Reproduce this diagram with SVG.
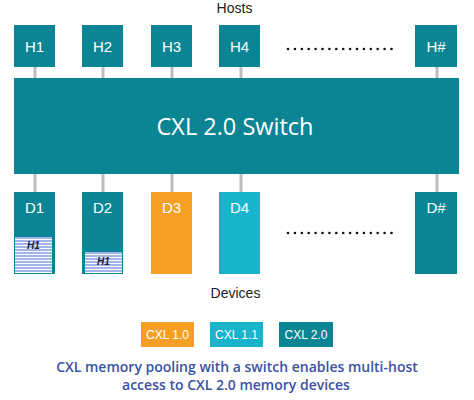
<svg xmlns="http://www.w3.org/2000/svg" width="474" height="400" viewBox="0 0 474 400">
<defs>
<pattern id="stripes" patternUnits="userSpaceOnUse" width="4" height="3" y="0">
<rect width="4" height="3" fill="#ffffff"/>
<rect width="4" height="2" fill="#a3b5e8"/>
</pattern>
</defs>
<style>
.teal{fill:#0b8593}
.lbl{font-family:"Liberation Sans",Arial,sans-serif;font-size:15px;fill:#ffffff;text-anchor:middle}
.cap{font-family:"Liberation Sans",Arial,sans-serif;font-size:14px;fill:#222222;text-anchor:middle}
.leg{font-family:"Liberation Sans",Arial,sans-serif;font-size:12px;fill:#ffffff;text-anchor:middle}
.conn{stroke:#bdbdbd;stroke-width:3}
.h1{font-family:"Liberation Sans",Arial,sans-serif;font-size:10px;font-weight:bold;font-style:italic;fill:#1a2440;text-anchor:middle}
.dots{fill:#111111}
.capt{font-family:"Open Sans","Noto Sans",sans-serif;font-size:14px;font-weight:600;fill:#3a52a3;text-anchor:middle}
</style>
<text class="cap" x="234.5" y="13">Hosts</text>
<g id="connectors">
<line class="conn" x1="35" y1="67" x2="35" y2="78"/>
<line class="conn" x1="103" y1="67" x2="103" y2="78"/>
<line class="conn" x1="172" y1="67" x2="172" y2="78"/>
<line class="conn" x1="241" y1="67" x2="241" y2="78"/>
<line class="conn" x1="437" y1="67" x2="437" y2="78"/>
<line class="conn" x1="35" y1="174" x2="35" y2="192"/>
<line class="conn" x1="103" y1="174" x2="103" y2="192"/>
<line class="conn" x1="172" y1="174" x2="172" y2="192"/>
<line class="conn" x1="241" y1="174" x2="241" y2="192"/>
<line class="conn" x1="437" y1="174" x2="437" y2="192"/>
</g>
<g id="H1"><rect class="teal" x="14" y="25" width="41" height="42"/><text class="lbl" x="34.5" y="51.5">H1</text></g>
<g id="H2"><rect class="teal" x="82" y="25" width="41" height="42"/><text class="lbl" x="102.5" y="51.5">H2</text></g>
<g id="H3"><rect class="teal" x="151" y="25" width="41" height="42"/><text class="lbl" x="171.5" y="51.5">H3</text></g>
<g id="H4"><rect class="teal" x="219" y="25" width="41" height="42"/><text class="lbl" x="239.5" y="51.5">H4</text></g>
<g id="Hn"><rect class="teal" x="415" y="25" width="42" height="42"/><text class="lbl" x="436" y="51.5">H#</text></g>
<g id="host-dots" class="dots">
<circle cx="288" cy="49" r="1.3"/><circle cx="294.9" cy="49" r="1.3"/><circle cx="301.8" cy="49" r="1.3"/><circle cx="308.7" cy="49" r="1.3"/><circle cx="315.6" cy="49" r="1.3"/><circle cx="322.5" cy="49" r="1.3"/><circle cx="329.4" cy="49" r="1.3"/><circle cx="336.3" cy="49" r="1.3"/><circle cx="343.2" cy="49" r="1.3"/><circle cx="350.1" cy="49" r="1.3"/><circle cx="357" cy="49" r="1.3"/><circle cx="363.9" cy="49" r="1.3"/><circle cx="370.8" cy="49" r="1.3"/><circle cx="377.7" cy="49" r="1.3"/><circle cx="384.6" cy="49" r="1.3"/><circle cx="391.5" cy="49" r="1.3"/>
</g>
<g id="switch"><rect class="teal" x="14" y="78" width="445" height="96"/>
<text x="235" y="135" style="font-family:'Open Sans','Noto Sans',sans-serif;font-size:23.5px;fill:#ffffff;text-anchor:middle">CXL 2.0 Switch</text></g>
<g id="D1"><rect class="teal" x="14" y="192" width="41" height="82"/><text class="lbl" x="34.5" y="212.5">D1</text>
<rect x="15" y="237" width="37" height="36" fill="url(#stripes)"/><text class="h1" x="33.5" y="249">H1</text></g>
<g id="D2"><rect class="teal" x="82" y="192" width="41" height="82"/><text class="lbl" x="102.5" y="212.5">D2</text>
<rect x="85" y="252" width="37" height="21" fill="url(#stripes)"/><text class="h1" x="103.5" y="265">H1</text></g>
<g id="D3"><rect x="151" y="192" width="41" height="82" fill="#f5a024"/><text class="lbl" x="171.5" y="212.5">D3</text></g>
<g id="D4"><rect x="219" y="192" width="41" height="82" fill="#17b4cc"/><text class="lbl" x="239.5" y="212.5">D4</text></g>
<g id="Dn"><rect class="teal" x="415" y="192" width="42" height="82"/><text class="lbl" x="436" y="212.5">D#</text></g>
<g id="device-dots" class="dots">
<circle cx="288" cy="233" r="1.3"/><circle cx="294.9" cy="233" r="1.3"/><circle cx="301.8" cy="233" r="1.3"/><circle cx="308.7" cy="233" r="1.3"/><circle cx="315.6" cy="233" r="1.3"/><circle cx="322.5" cy="233" r="1.3"/><circle cx="329.4" cy="233" r="1.3"/><circle cx="336.3" cy="233" r="1.3"/><circle cx="343.2" cy="233" r="1.3"/><circle cx="350.1" cy="233" r="1.3"/><circle cx="357" cy="233" r="1.3"/><circle cx="363.9" cy="233" r="1.3"/><circle cx="370.8" cy="233" r="1.3"/><circle cx="377.7" cy="233" r="1.3"/><circle cx="384.6" cy="233" r="1.3"/><circle cx="391.5" cy="233" r="1.3"/>
</g>
<text class="cap" x="235.5" y="298">Devices</text>
<g id="legend">
<rect x="141" y="322" width="53" height="25" fill="#f5a024"/><text class="leg" x="167.5" y="338.5">CXL 1.0</text>
<rect x="210" y="322" width="53" height="25" fill="#17b4cc"/><text class="leg" x="236.5" y="338.5">CXL 1.1</text>
<rect x="279" y="322" width="54" height="25" fill="#0b8593"/><text class="leg" x="306" y="338.5">CXL 2.0</text>
</g>
<text class="capt" x="237" y="372">CXL memory pooling with a switch enables multi-host</text>
<text class="capt" x="236" y="390">access to CXL 2.0 memory devices</text>
</svg>
